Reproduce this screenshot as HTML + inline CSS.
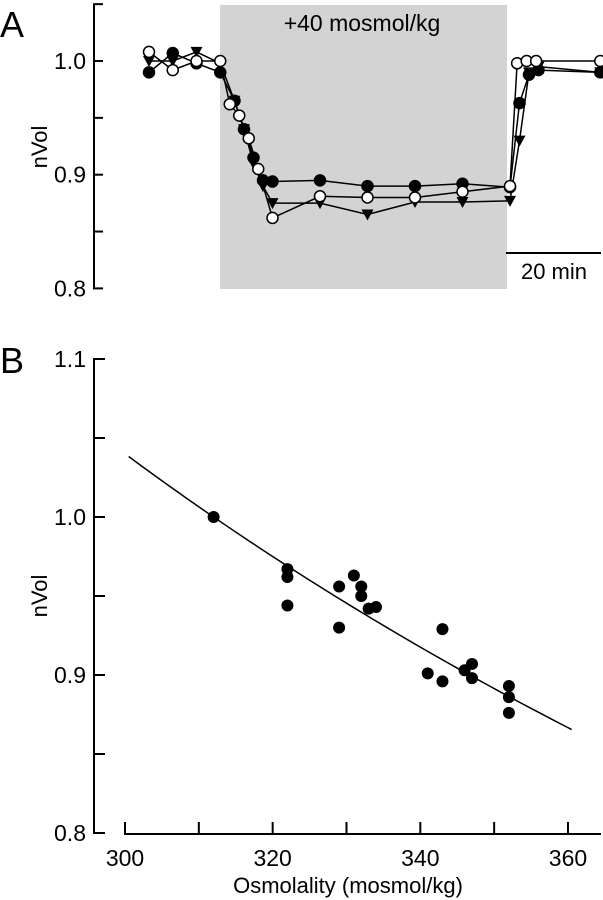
<!DOCTYPE html>
<html><head><meta charset="utf-8"><style>
html,body{margin:0;padding:0;background:#fff;}
svg{display:block;font-family:"Liberation Sans",Arial,sans-serif;}
</style></head><body>
<svg id="fig" width="603" height="900" viewBox="0 0 603 900">
<rect x="220" y="5" width="287" height="284" fill="#d3d3d3"/>
<text x="362" y="31" font-size="23" text-anchor="middle">+40 mosmol/kg</text>
<text x="0" y="37" font-size="36">A</text>
<text x="0" y="373" font-size="36">B</text>
<text transform="translate(47,147) rotate(-90)" font-size="22" text-anchor="middle">nVol</text>
<text transform="translate(47,596) rotate(-90)" font-size="22" text-anchor="middle">nVol</text>
<text x="348" y="893" font-size="22" text-anchor="middle">Osmolality (mosmol/kg)</text>
<line x1="506" y1="253" x2="601" y2="253" stroke="#000" stroke-width="2"/>
<text x="554" y="279" font-size="22" text-anchor="middle">20 min</text>
<g id="ga"></g><g id="gb"></g>
</svg>
<script>
// Panel A data
const tFilled=[0,5,10,15,18,20,22,24,26,36,46,56,66,76,78,80,82,95];
const vFilled=[0.99,1.007,0.998,0.99,0.965,0.94,0.915,0.895,0.894,0.895,0.89,0.89,0.892,0.889,0.963,0.988,0.992,0.99];
const tOpen=[0,5,10,15,17,19,21,23,26,36,46,56,66,76,77.5,79.5,81.5,95];
const vOpen=[1.008,0.992,1.0,1.0,0.962,0.952,0.932,0.905,0.862,0.881,0.88,0.88,0.885,0.89,0.998,1.0,1.0,1.0];
const tTri=[0,5,10,15,18,20,22,24,26,36,46,56,66,76,78,80,82,95];
const vTri=[1.0,1.0,1.008,0.998,0.965,0.94,0.91,0.89,0.875,0.875,0.865,0.876,0.876,0.877,0.93,0.99,0.995,0.99];
const aTicks=[0.8,0.85,0.9,0.95,1.0,1.05];
const aLabels=["0.8","","0.9","","1.0",""];
// Panel B data
const osm=[312,322,322,322,329,329,331,332,332,333,334,341,343,343,346,347,347,352,352,352];
const nvol=[1.0,0.967,0.962,0.944,0.956,0.93,0.963,0.956,0.95,0.942,0.943,0.901,0.929,0.896,0.903,0.907,0.898,0.893,0.886,0.876];
const bXTicks=[300,310,320,330,340,350,360];
const bXLabels=["300","","320","","340","","360"];
const bYTicks=[0.8,0.85,0.9,0.95,1.0,1.05,1.1];
const bYLabels=["0.8","","0.9","","1.0","","1.1"];

const NS="http://www.w3.org/2000/svg";
function mk(tag,attrs,parent){const e=document.createElementNS(NS,tag);for(const k in attrs)e.setAttribute(k,attrs[k]);parent.appendChild(e);return e;}
const xA=t=>149+t*4.75, yA=v=>61+(1.0-v)*1137;
const xB=o=>125+(o-300)*7.383, yB=v=>517+(1.0-v)*1580;
const ga=document.getElementById('ga'), gb=document.getElementById('gb');

let ax=mk('line',{x1:94,y1:5,x2:94,y2:289,stroke:'#000','stroke-width':2},ga);


aTicks.forEach((v,i)=>{
  const tk=mk('line',{x1:93,y1:yA(v),x2:103,y2:yA(v),stroke:'#000','stroke-width':2},ga);
  
  
  if(aLabels[i]){const tx=mk('text',{x:86,y:yA(v)+8,'font-size':23,'text-anchor':'end'},ga);tx.textContent=aLabels[i];
    
    }
});
function series(ts,vs,kind,name){
  const pts=ts.map((t,i)=>xA(t)+','+yA(vs[i])).join(' ');
  const pl=mk('polyline',{points:pts,fill:'none',stroke:'#000','stroke-width':1.5},ga);
  
  
  ts.forEach((t,i)=>{
    const x=xA(t),y=yA(vs[i]);let m;
    if(kind==='tri') m=mk('polygon',{points:`${x-6},${y-5} ${x+6},${y-5} ${x},${y+6}`,fill:'#000'},ga);
    else m=mk('circle',{cx:x,cy:y,r:5.5,fill:kind==='open'?'#fff':'#000',stroke:'#000','stroke-width':1.5},ga);
    
    
  });
}
series(tTri,vTri,'tri','triangle-series');
series(tFilled,vFilled,'filled','filled-circle-series');
series(tOpen,vOpen,'open','open-circle-series');

let by=mk('line',{x1:94,y1:359,x2:94,y2:834,stroke:'#000','stroke-width':2},gb);


bYTicks.forEach((v,i)=>{
  const tk=mk('line',{x1:93,y1:yB(v),x2:105,y2:yB(v),stroke:'#000','stroke-width':2},gb);
  
  
  if(bYLabels[i]){const tx=mk('text',{x:86,y:yB(v)+8,'font-size':23,'text-anchor':'end'},gb);tx.textContent=bYLabels[i];
    
    }
});
let bx=mk('line',{x1:125,y1:834,x2:601,y2:834,stroke:'#000','stroke-width':2},gb);


bXTicks.forEach((o,i)=>{
  const tk=mk('line',{x1:xB(o),y1:822,x2:xB(o),y2:835,stroke:'#000','stroke-width':2},gb);
  
  
  if(bXLabels[i]){const tx=mk('text',{x:xB(o),y:866,'font-size':23,'text-anchor':'middle'},gb);tx.textContent=bXLabels[i];
    
    }
});
let fp=[];for(let o=300.5;o<=360.5;o+=1){fp.push(xB(o)+','+yB(312/o));}
const fit=mk('polyline',{points:fp.join(' '),fill:'none',stroke:'#000','stroke-width':1.5},gb);


osm.forEach((o,i)=>{
  const c=mk('circle',{cx:xB(o),cy:yB(nvol[i]),r:6,fill:'#000'},gb);
  
  
});
</script>
</body></html>
